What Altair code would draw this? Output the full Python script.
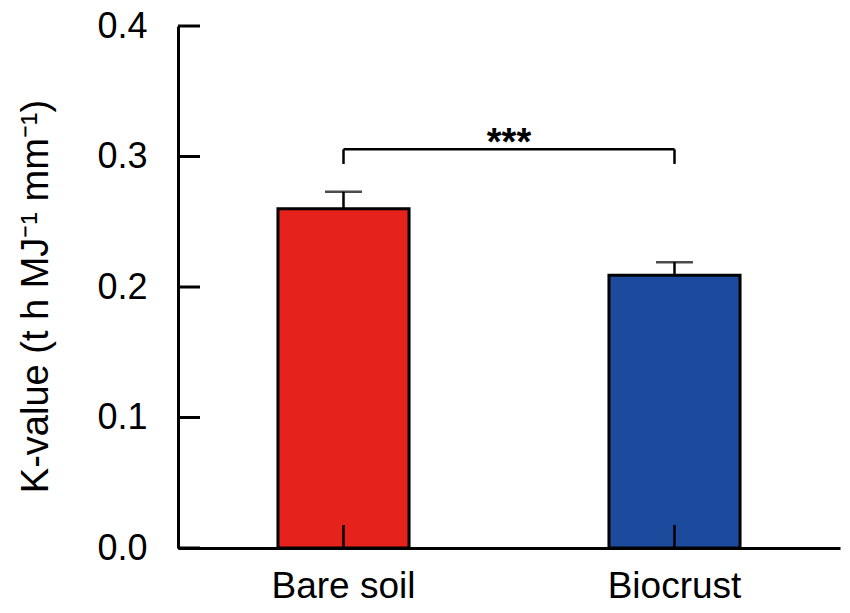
import altair as alt
import pandas as pd

# ---- data ----
categories = ["Bare soil", "Biocrust"]
k_values = [0.260, 0.209]
k_errors = [0.013, 0.010]
colors = ["#E5221B", "#1C4A9C"]
y_ticks = [0.0, 0.1, 0.2, 0.3, 0.4]
bracket_top = 0.3055
bracket_bottom = 0.2943
star_y = 0.3055
sig_label = "***"
y_title = "K-value (t h MJ\u207b\u00b9 mm\u207b\u00b9)"

df = pd.DataFrame({"cat": categories, "value": k_values, "err": k_errors})
df["upper"] = df["value"] + df["err"]
ticks_df = pd.DataFrame({"value": y_ticks})
br_df = pd.DataFrame({"cat": [categories[0]], "cat2": [categories[1]],
                      "value": [bracket_top], "low": [bracket_bottom]})
br_ends = pd.DataFrame({"cat": categories, "value": [bracket_top] * 2,
                        "low": [bracket_bottom] * 2})
star_df = pd.DataFrame({"cat": [categories[0]], "value": [star_y], "lab": [sig_label]})

W, H = 662, 522
FONT = "Liberation Sans"

xscale = alt.Scale(domain=categories, paddingInner=0.604, paddingOuter=0.302)
xaxis = alt.Axis(title=None, labelFontSize=37, labelFont=FONT, labelColor="black",
                 labelAngle=0, labelBaseline="alphabetic", labelPadding=49,
                 ticks=False, tickSize=0, domainColor="black", domainWidth=3, zindex=1)
yscale = alt.Scale(domain=[0, 0.4], nice=False, zero=True)
yaxis = alt.Axis(values=y_ticks, format=".1f", title=y_title, grid=False,
                 labelFontSize=36, labelFont=FONT, labelColor="black", labelPadding=31,
                 ticks=False, tickSize=0, domainColor="black", domainWidth=3,
                 titleFontSize=38, titleFont=FONT, titleFontWeight="normal",
                 titleColor="black", titleBaseline="alphabetic", titleAngle=270,
                 titleAlign="center", titleX=-131, titleY=270, zindex=1)


def X(field="cat", **kw):
    return alt.X(f"{field}:N", scale=xscale, axis=xaxis, sort=categories, **kw)


def Y(field="value"):
    return alt.Y(f"{field}:Q", scale=yscale, axis=yaxis)


base = alt.Chart(df)

bars = base.mark_bar(stroke="black", strokeWidth=3).encode(
    x=X(), y=Y(),
    color=alt.Color("cat:N", scale=alt.Scale(domain=categories, range=colors), legend=None),
)
stems = base.mark_rule(color="black", strokeWidth=2.5).encode(
    x=X(), y=Y(), y2="upper:Q")
caps = base.mark_tick(color="black", thickness=2.5, size=37).encode(
    x=X(), y=Y("upper"))
xticks = base.mark_rule(color="black", strokeWidth=2.5).encode(
    x=X(), y=alt.value(H), y2=alt.value(H - 23))
yticks = alt.Chart(ticks_df).mark_rule(color="black", strokeWidth=3).encode(
    y=Y(), x=alt.value(0), x2=alt.value(22))
br_h = alt.Chart(br_df).mark_rule(color="black", strokeWidth=2.5).encode(
    x=X(bandPosition=0.5), x2=alt.X2("cat2:N", bandPosition=0.5), y=Y())
br_v = alt.Chart(br_ends).mark_rule(color="black", strokeWidth=2.5).encode(
    x=X(), y=Y(), y2="low:Q")
stars = alt.Chart(star_df).mark_text(font=FONT, fontSize=38, fontWeight="bold",
                                     color="black", baseline="alphabetic",
                                     align="center", dx=W / 4, dy=6).encode(
    x=X(), y=Y(), text="lab:N")

chart = alt.layer(bars, stems, caps, xticks, yticks, br_h, br_v, stars).properties(
    width=W, height=H,
    background="white",
    autosize=alt.AutoSizeParams(type="none"),
    padding={"left": 170, "top": 18, "right": 2, "bottom": 51},
).configure_view(stroke=None)

chart.save("out.html", embed_options={"renderer": "svg", "actions": False})
